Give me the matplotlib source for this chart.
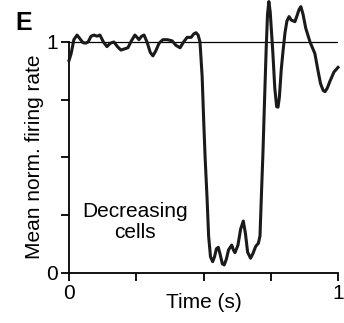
"""panel E: mean normalized firing rate of decreasing cells."""

import matplotlib.pyplot as plt

plt.rcParams["font.family"] = ["Liberation Sans", "DejaVu Sans"]

# trace (time in s, normalized rate)
time_s = [
    0.000, 0.008, 0.018, 0.030, 0.040, 0.052, 0.062, 0.071, 0.082, 0.093,
    0.104, 0.115, 0.128, 0.141, 0.154, 0.167, 0.180, 0.193, 0.206, 0.219,
    0.232, 0.245, 0.253, 0.260, 0.270, 0.279, 0.290, 0.302, 0.312, 0.322,
    0.335, 0.349, 0.366, 0.383, 0.398, 0.413, 0.426, 0.439, 0.454, 0.464,
    0.472, 0.480, 0.487, 0.495, 0.501, 0.506, 0.513, 0.519, 0.526, 0.534,
    0.541, 0.548, 0.555, 0.562, 0.570, 0.577, 0.585, 0.593, 0.605, 0.611,
    0.617, 0.628, 0.638, 0.648, 0.656, 0.664, 0.675, 0.684, 0.694, 0.704,
    0.710, 0.716, 0.721, 0.727, 0.733, 0.738, 0.743, 0.748, 0.753, 0.758,
    0.765, 0.772, 0.777, 0.782, 0.789, 0.796, 0.803, 0.810, 0.818, 0.826,
    0.840, 0.848, 0.855, 0.862, 0.870, 0.880, 0.896, 0.905, 0.914, 0.925,
    0.935, 0.945, 0.952, 0.960, 0.970, 0.985, 1.000,
]
rate = [
    0.92, 0.95, 1.01, 1.03, 1.015, 0.997, 0.995, 1.00, 1.025, 1.03,
    1.025, 1.03, 1.00, 0.98, 0.995, 1.00, 0.98, 0.965, 0.97, 0.975,
    1.005, 1.03, 1.02, 1.01, 1.025, 1.03, 1.00, 0.955, 0.94, 0.96,
    0.995, 1.01, 1.01, 1.005, 0.985, 0.975, 1.00, 1.02, 1.02, 1.035,
    1.04, 1.03, 1.00, 0.85, 0.65, 0.50, 0.33, 0.16, 0.07, 0.049,
    0.07, 0.105, 0.111, 0.08, 0.04, 0.035, 0.06, 0.10, 0.121, 0.10,
    0.088, 0.12, 0.19, 0.225, 0.17, 0.09, 0.064, 0.085, 0.115, 0.129,
    0.16, 0.36, 0.52, 0.75, 0.97, 1.12, 1.175, 1.13, 1.04, 0.95,
    0.80, 0.72, 0.718, 0.76, 0.88, 0.965, 1.04, 1.09, 1.11, 1.095,
    1.088, 1.115, 1.14, 1.153, 1.12, 1.06, 1.00, 0.975, 0.95, 0.88,
    0.82, 0.79, 0.785, 0.80, 0.83, 0.87, 0.89,
]

x_ticks = [0, 0.25, 0.5, 0.75, 1]
y_ticks = [0, 0.25, 0.5, 0.75, 1]

fig = plt.figure(figsize=(3.44, 3.23), dpi=100)
ax = fig.add_axes([69 / 344, 50 / 323, 269 / 344, 272.6 / 323])

ax.plot(time_s, rate, color="#1a1a1a", linewidth=2.2, clip_on=False,
        solid_joinstyle="round", zorder=3)
ax.axhline(1, color="black", linewidth=0.9, zorder=2)

ax.set_xlim(0, 1)
ax.set_ylim(0, 1.18)
ax.spines["top"].set_visible(False)
ax.spines["right"].set_visible(False)
ax.spines["left"].set_bounds(0, 1)
for side in ("left", "bottom"):
    ax.spines[side].set_linewidth(1.3)

ax.set_xticks(x_ticks)
ax.set_xticklabels(["0", "", "", "", "1"])
ax.set_yticks(y_ticks)
ax.set_yticklabels(["0", "", "", "", "1"])
ax.tick_params(direction="out", length=6, width=1.3, labelsize=15, pad=2)

ax.set_xlabel("Time (s)", fontsize=15, labelpad=-7)
fig.text(35 / 344, 1 - 157 / 323, "Mean norm. firing rate", rotation=90,
         ha="center", va="center", fontsize=15)

ax.text(0.245, 0.22, "Decreasing\ncells", ha="center", va="center",
        fontsize=15, linespacing=1.1)
fig.text(15 / 344, 1 - 11 / 323, "E", fontsize=18, fontweight="bold",
         ha="left", va="top")

plt.savefig("out.png", dpi=100)
